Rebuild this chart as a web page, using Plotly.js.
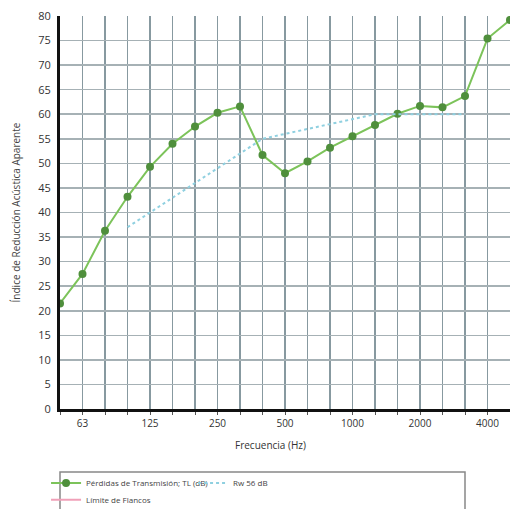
<!DOCTYPE html>
<html>
<head>
<meta charset="utf-8">
<script src="https://cdn.plot.ly/plotly-3.0.1.min.js"></script>
<style>html,body{margin:0;padding:0;background:#fff;}#chart{width:510px;height:509px;}</style>
</head>
<body>
<div id="chart"></div>
<script>
const freqs = ['50','63','80','100','125','160','200','250','315','400','500','630','800','1000','1250','1600','2000','2500','3150','4000','5000'];
const tickLabels = ['','63','','','125','','','250','','','500','','','1000','','','2000','','','4000',''];
const tlValues = [21.5,27.5,36.3,43.2,49.3,54,57.5,60.3,61.6,51.7,48,50.4,53.2,55.5,57.8,60.1,61.7,61.4,63.7,75.4,79.2];
const rwFreqs = ['100','125','160','200','250','315','400','500','630','800','1000','1250','1600','2000','2500','3150'];
const rwValues = [37,40,43,46,49,52,55,56,57,58,59,60,60,60,60,60];
const flancoValues = freqs.map(() => null);

const traces = [
  {x: freqs, y: tlValues, type: 'scatter', mode: 'lines+markers', name: 'Pérdidas de Transmisión; TL (dB)',
   line: {color: '#7cc35a', width: 2}, marker: {color: '#4f8f3c', size: 8}, legend: 'legend'},
  {x: rwFreqs, y: rwValues, type: 'scatter', mode: 'lines', name: 'Rw 56 dB',
   line: {color: '#8fd0e0', width: 2, dash: 'dot'}, legend: 'legend'},
  {x: freqs, y: flancoValues, type: 'scatter', mode: 'lines', name: 'Límite de Flancos',
   line: {color: '#f0a0b8', width: 2}, legend: 'legend2'}
];

const layout = {
  width: 510, height: 509,
  margin: {l: 60, r: 0, t: 16, b: 100, autoexpand: false},
  paper_bgcolor: '#ffffff', plot_bgcolor: '#ffffff',
  font: {family: 'Open Sans, sans-serif', color: '#444'},
  showlegend: true,
  xaxis: {
    type: 'category', categoryorder: 'array', categoryarray: freqs,
    range: [0, 20],
    tickvals: freqs, ticktext: tickLabels,
    showgrid: true, gridcolor: '#8799a0', gridwidth: 1.6,
    showline: true, linecolor: '#111', linewidth: 3,
    ticks: 'outside', ticklen: 3, tickcolor: '#555',
    tickfont: {size: 10, color: '#333'},
    zeroline: false
  },
  yaxis: {
    range: [0, 80], dtick: 5, tick0: 0,
    showgrid: true, gridcolor: '#a6b1b5', gridwidth: 1.6,
    showline: true, linecolor: '#111', linewidth: 3,
    ticks: '', tickfont: {size: 11, color: '#333'}, ticklabelstandoff: 4,
    zeroline: false,
    title: {text: 'Índice de Reducción Acústica Aparente', font: {size: 10, color: '#444'}, standoff: 16}
  },
  annotations: [
    {text: 'Frecuencia (Hz)', xref: 'paper', yref: 'paper', x: 0.467, y: -0.092,
     xanchor: 'center', yanchor: 'middle', showarrow: false, font: {size: 10, color: '#333'}}
  ],
  legend: {
    orientation: 'h', x: -0.031, xanchor: 'left', y: -0.188, yanchor: 'middle',
    bgcolor: 'rgba(0,0,0,0)', font: {size: 8, color: '#444'},
    entrywidth: 102, entrywidthmode: 'pixels', itemwidth: 30
  },
  legend2: {
    orientation: 'h', x: -0.031, xanchor: 'left', y: -0.231, yanchor: 'middle',
    bgcolor: 'rgba(0,0,0,0)', font: {size: 8, color: '#444'}, itemwidth: 30
  },
  shapes: [
    {type: 'rect', xref: 'paper', yref: 'paper', x0: 0, x1: 0.9, y0: -0.16, y1: -0.27,
     line: {color: '#888', width: 1.5}, fillcolor: 'rgba(0,0,0,0)'}
  ]
};

Plotly.newPlot('chart', traces, layout, {displayModeBar: false, staticPlot: true});
</script>
</body>
</html>
